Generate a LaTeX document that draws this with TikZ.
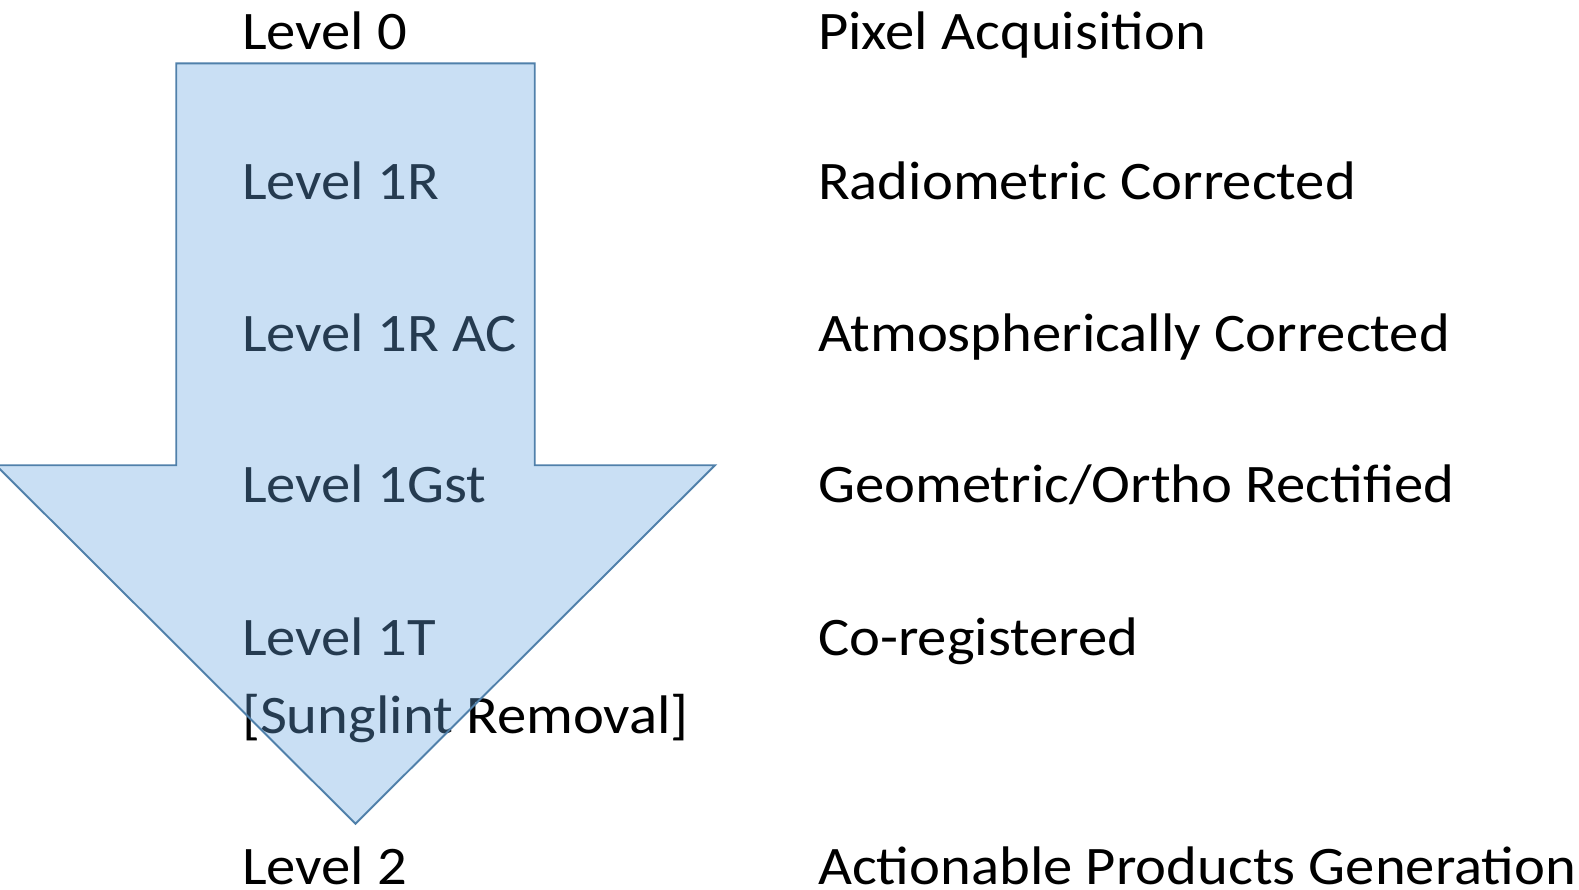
\documentclass[tikz,border=0pt]{standalone}
\usepackage{fontspec}
\setmainfont{Carlito}[FakeStretch=1.08]
\usepackage{xcolor}
\usepackage{tikz}
\definecolor{arrowfill}{RGB}{104,165,224}
\definecolor{arrowline}{RGB}{80,128,170}
\definecolor{text}{HTML}{000000}
\tikzset{
  bigarrow/.style={draw=arrowline, line width=1.1pt, fill=arrowfill, fill opacity=0.36, line join=miter},
  lab/.style={text=text, anchor=base west, inner sep=0pt, font=\fontsize{30.9}{36}\selectfont}
}

\begin{document}
\begin{tikzpicture}[x=0.02014cm, y=-0.02014cm]
  \useasboundingbox (0,0) rectangle (1568,883);

  % levels
  \node[lab] (l0)   at (240,49)  {Level 0};
  \node[lab] (l1r)  at (240,198) {Level 1R};
  \node[lab] (l1ac) at (240,349) {Level 1R AC};
  \node[lab] (l1g)  at (240,499) {Level 1Gst};
  \node[lab] (l1t)  at (240,651) {Level 1T};
  \node[lab] (sg)   at (240,728) {[Sunglint Removal]};
  \node[lab] (l2)   at (240,878) {Level 2};

  % steps
  \node[lab] (p0)   at (812,49)  {Pixel Acquisition};
  \node[lab] (p1r)  at (812,198) {Radiometric Corrected};
  \node[lab] (p1ac) at (812,349) {Atmospherically Corrected};
  \node[lab] (p1g)  at (812,499) {Geometric/Ortho Rectified};
  \node[lab] (p1t)  at (812,651) {Co-registered};
  \node[lab] (p2)   at (812,878) {Actionable Products Generation};

  % arrow on top of the text
  \draw[bigarrow] (175,63) -- (531,63) -- (531,462) -- (710,462)
    -- (353,818) -- (-4,462) -- (175,462) -- cycle;
\end{tikzpicture}
\end{document}
